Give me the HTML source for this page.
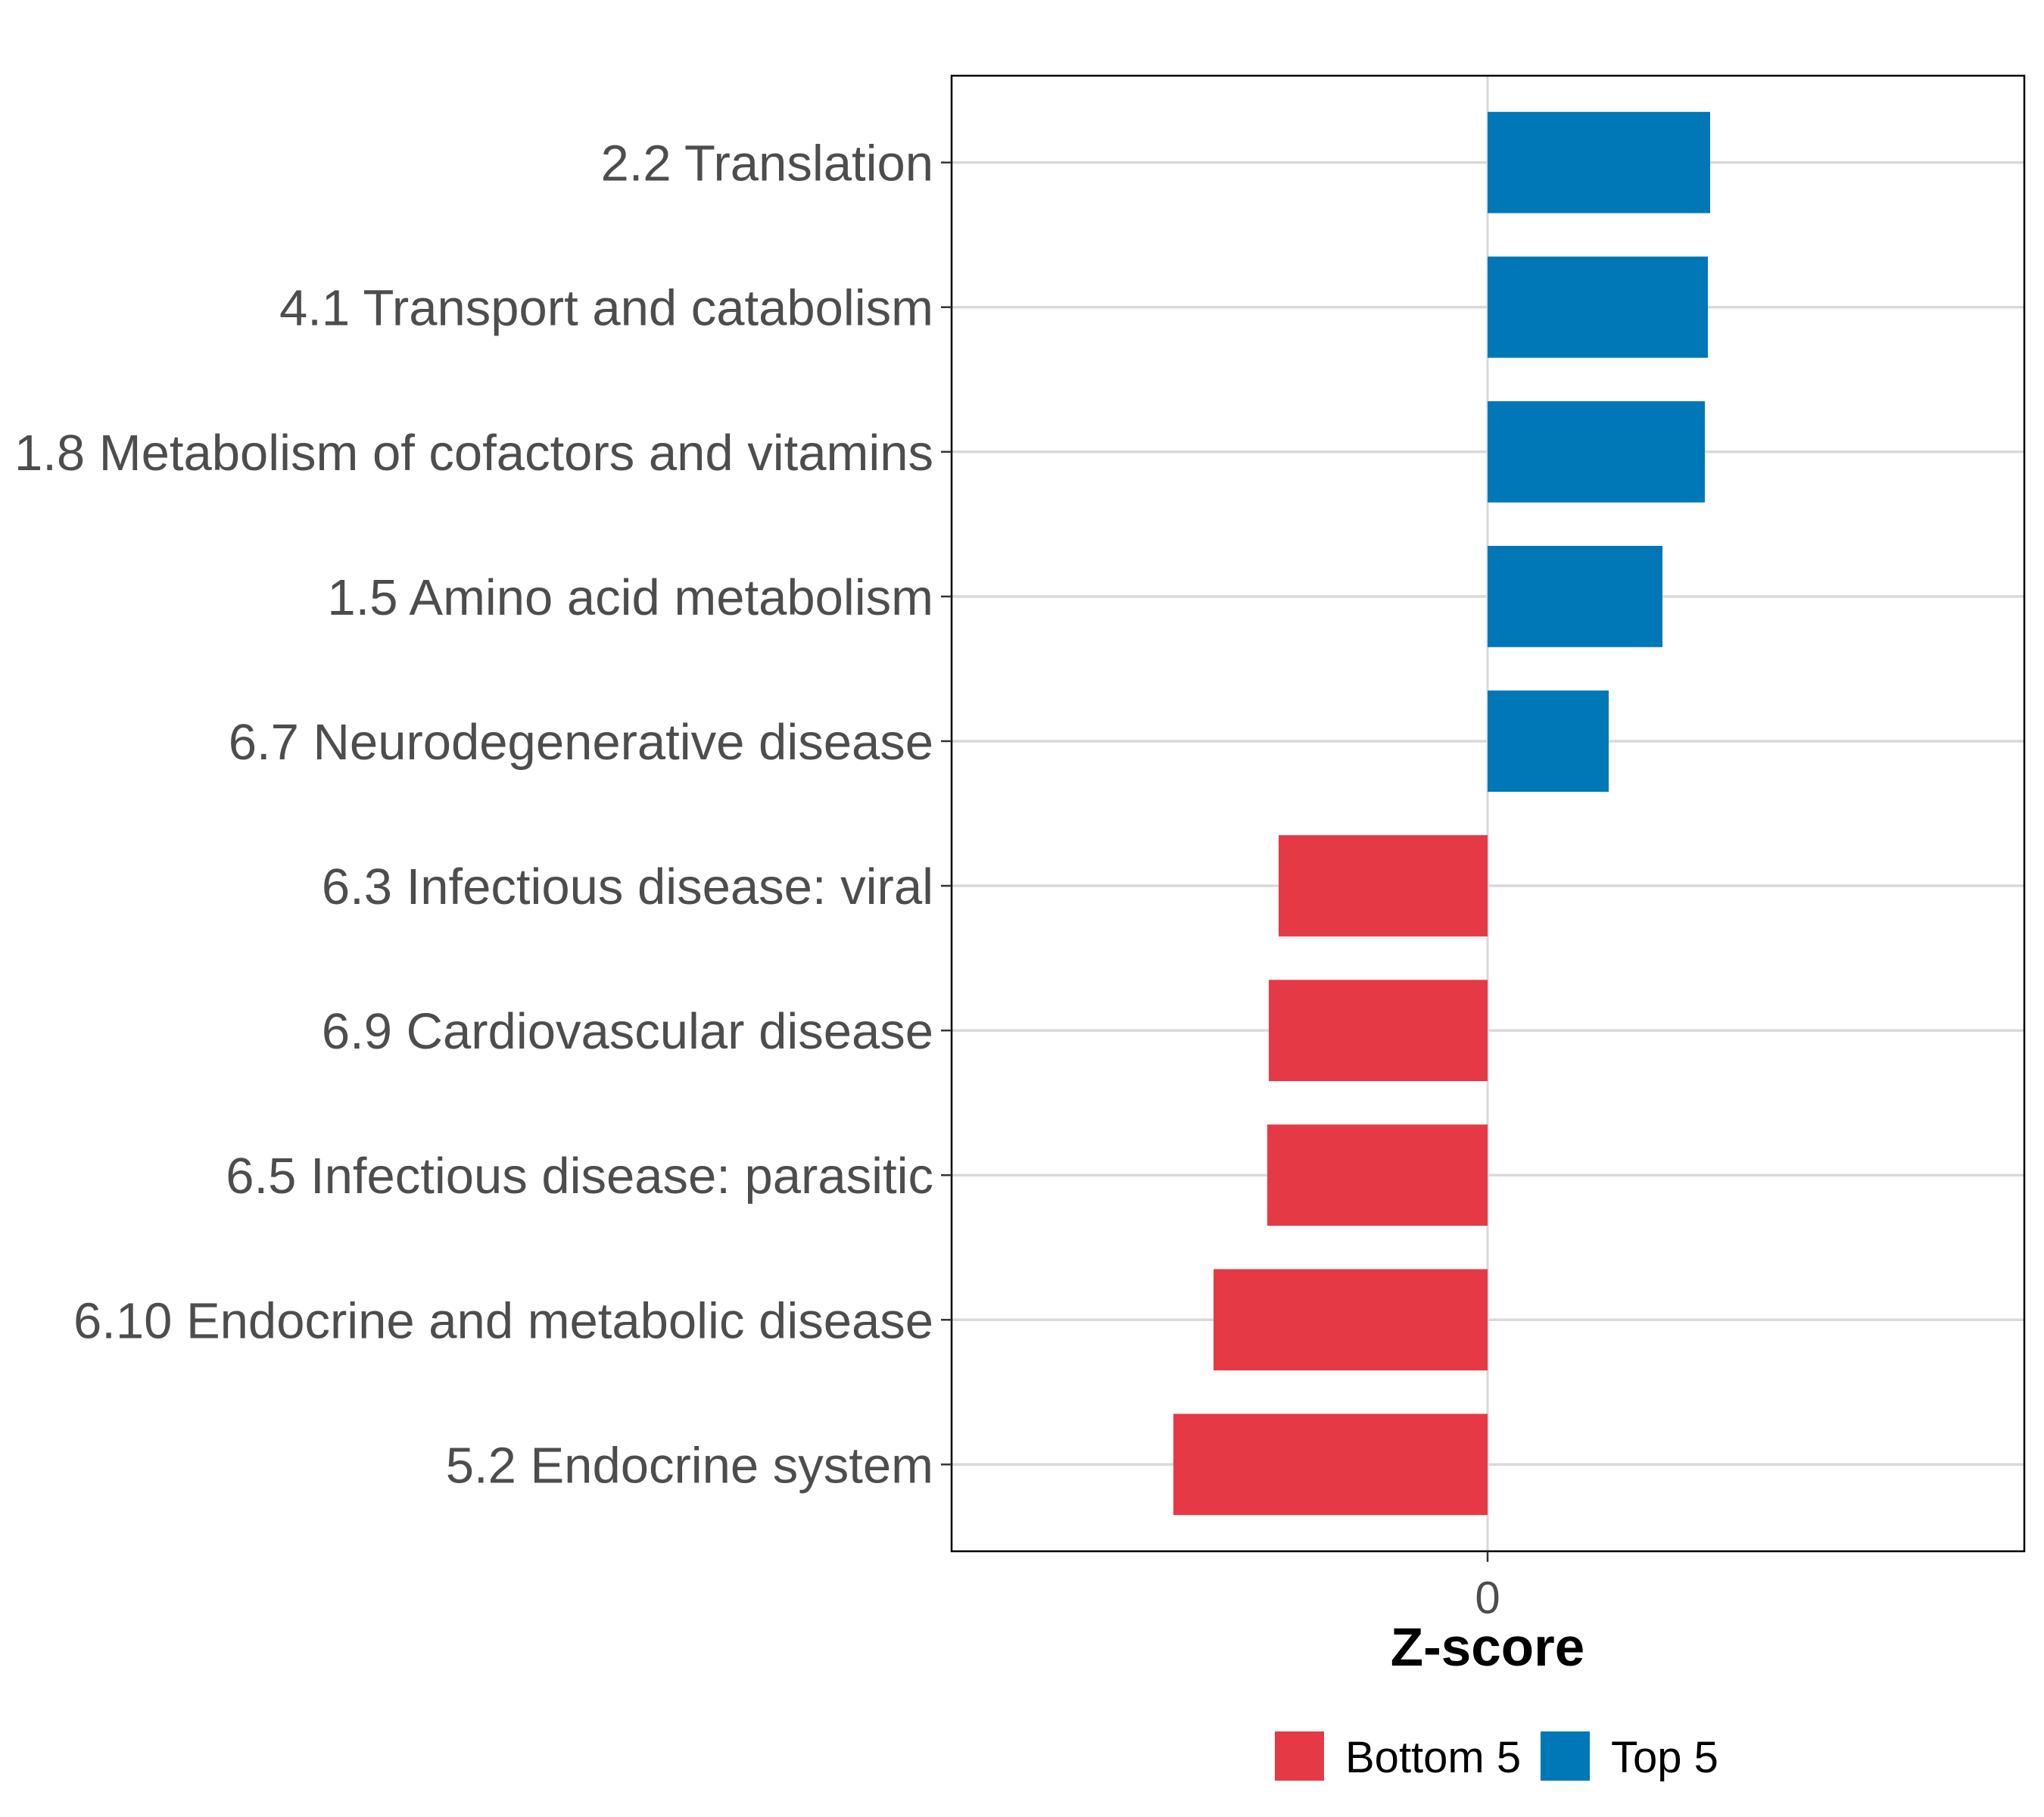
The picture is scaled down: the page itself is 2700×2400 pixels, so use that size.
<!DOCTYPE html>
<html><head><meta charset="utf-8"><style>
body{margin:0;background:#fff}
svg{display:block;font-family:"Liberation Sans",sans-serif}
</style></head><body>
<svg id="chart" width="2700" height="2400" viewBox="0 0 2700 2400">
<g id="grid"></g>
<g id="bars"></g>
<rect x="1257" y="100" width="1417" height="1949" fill="none" stroke="#000" stroke-width="2.5"/>
<g id="ylabels"></g>
<g id="xaxis"></g>
<text x="1965" y="2200" font-size="71" font-weight="bold" text-anchor="middle" fill="#000">Z-score</text>
<g>
<rect x="1684" y="2287" width="65" height="65" fill="#E63946"/>
<text x="1777" y="2341" font-size="58" fill="#000">Bottom 5</text>
<rect x="2035" y="2287" width="65" height="65" fill="#0077B6"/>
<text x="2128" y="2341" font-size="58" fill="#000">Top 5</text>
</g>
</svg>
<script>
const categories = ["2.2 Translation","4.1 Transport and catabolism","1.8 Metabolism of cofactors and vitamins","1.5 Amino acid metabolism","6.7 Neurodegenerative disease","6.3 Infectious disease: viral","6.9 Cardiovascular disease","6.5 Infectious disease: parasitic","6.10 Endocrine and metabolic disease","5.2 Endocrine system"];
const values = [2.94, 2.91, 2.87, 2.31, 1.60, -2.76, -2.89, -2.91, -3.62, -4.15];
const groups = ["Top 5","Top 5","Top 5","Top 5","Top 5","Bottom 5","Bottom 5","Bottom 5","Bottom 5","Bottom 5"];
const xTicks = [0];
const xDomain = [-7.08, 7.09];

const NS = "http://www.w3.org/2000/svg";
const L = 1257, R = 2674, T = 100, B = 2049;
const x = v => L + (v - xDomain[0]) / (xDomain[1] - xDomain[0]) * (R - L);
const step = (B - T) / (categories.length + 0.2);
const y = i => T + step * 0.6 + i * step;
const colors = {"Top 5": "#0077B6", "Bottom 5": "#E63946"};
function mk(tag, attrs, parent){const e=document.createElementNS(NS,tag);for(const k in attrs)e.setAttribute(k,attrs[k]);parent.appendChild(e);return e;}
const grid = document.getElementById("grid"), bars = document.getElementById("bars"), yl = document.getElementById("ylabels"), xa = document.getElementById("xaxis");
xTicks.forEach(t => {
  const g = mk("line",{x1:x(t),x2:x(t),y1:T,y2:B,stroke:"#d9d9d9","stroke-width":3},grid);
  
  
  const tk = mk("line",{x1:x(t),x2:x(t),y1:B,y2:B+14,stroke:"#333","stroke-width":2.5},xa);
  
  
  const tl = mk("text",{x:x(t),y:B+82,"font-size":60,"text-anchor":"middle",fill:"#4d4d4d"},xa);
  tl.textContent = t;
  
  
});
categories.forEach((c,i) => {
  const cy = y(i);
  const gl = mk("line",{x1:L,x2:R,y1:cy,y2:cy,stroke:"#d9d9d9","stroke-width":3.5},grid);
  
  
  const v = values[i], x0 = x(0), x1 = x(v), h = step * 0.7;
  const b = mk("rect",{x:Math.min(x0,x1),y:cy-h/2,width:Math.abs(x1-x0),height:h,fill:colors[groups[i]]},bars);
  
  
  const tk = mk("line",{x1:L-14,x2:L,y1:cy,y2:cy,stroke:"#333","stroke-width":2.5},yl);
  
  
  const t = mk("text",{x:L-24,y:cy+24,"font-size":67,"text-anchor":"end",fill:"#4d4d4d"},yl);
  t.textContent = c;
  
  
});
</script>
</body></html>
